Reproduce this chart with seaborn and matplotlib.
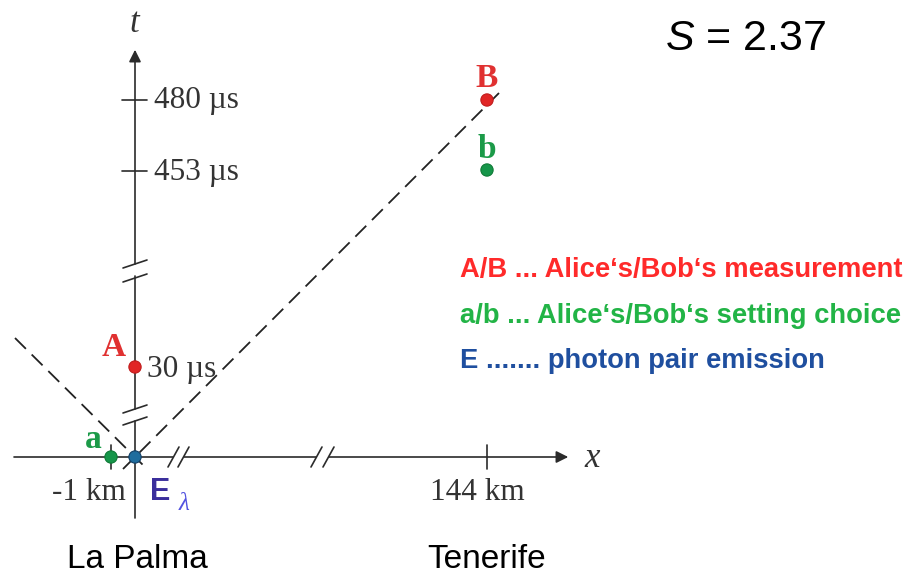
import numpy as np
import pandas as pd
import matplotlib
matplotlib.use("Agg")
import matplotlib.pyplot as plt
import seaborn as sns

# ==================================================
# DATA (schematic space-time diagram, figure pixel units)
# ==================================================

origin_x = 135
origin_t = 457

event_names = ["A", "B", "a", "b", "E"]
event_x = [135, 487, 111, 487, 135]
event_t = [367, 100, 457, 170, 457]
event_colors = ["#e12626", "#e12626", "#16964a", "#16964a", "#1f6d9e"]

label_names = ["A", "B", "a", "b"]
label_x = [114, 487, 93, 487]
label_t = [356, 87, 448, 158]
label_colors = ["#e03131", "#e03131", "#1b9a48", "#1b9a48"]

t_ticks = [100, 171]
t_tick_labels = ["480 µs", "453 µs"]
t_label_base = [108, 180]

x_ticks = [111, 487]
x_tick_labels = ["-1 km", "144 km"]
x_label_pos = [89, 477]

# light cones through the emission event E
cone_x = [[15, 147], [123, 500]]
cone_t = [[338, 469], [469, 92]]

# axis breaks
t_breaks = [[268, 282], [413, 425]]
x_breaks = [[168, 178], [311, 323]]

legend_lines = [
    "A/B ... Alice‘s/Bob‘s measurement",
    "a/b ... Alice‘s/Bob‘s setting choice",
    "E ....... photon pair emission",
]
legend_colors = ["#ff2a2a", "#22b446", "#1f4f9f"]
legend_base = [277, 323, 368]

places = ["La Palma", "Tenerife"]
places_x = [137, 487]

# ==================================================
# FIGURE
# ==================================================

sns.set_theme(style="white")
plt.rcParams["font.family"] = ["Liberation Sans", "DejaVu Sans"]
plt.rcParams["mathtext.fontset"] = "custom"
plt.rcParams["mathtext.it"] = "Liberation Sans:italic"
plt.rcParams["mathtext.rm"] = "Liberation Sans"

fig = plt.figure(figsize=(9.07, 5.76), dpi=100)
ax = fig.add_axes([0, 0, 1, 1])

axis_col = "#2b2b2b"
lw = 1.2
serif = ["Liberation Serif", "DejaVu Serif"]

# t axis, drawn in pieces around the breaks
seg_t = [518, t_breaks[1][1] - 4, t_breaks[1][0] - 4, t_breaks[0][1] - 6, t_breaks[0][0] - 4, 58]
for i in range(0, len(seg_t), 2):
    ax.plot([origin_x, origin_x], [seg_t[i], seg_t[i + 1]], color=axis_col, lw=lw)
ax.annotate("", xy=(origin_x, 47), xytext=(origin_x, 60),
            arrowprops=dict(arrowstyle="-|>", color=axis_col, lw=lw, mutation_scale=18))

# x axis with breaks
seg_x = [14, x_breaks[0][0] + 5, x_breaks[0][1] + 6, x_breaks[1][0] + 5, x_breaks[1][1] + 6, 560]
for i in range(0, len(seg_x), 2):
    ax.plot([seg_x[i], seg_x[i + 1]], [origin_t, origin_t], color=axis_col, lw=lw)
ax.annotate("", xy=(571, origin_t), xytext=(558, origin_t),
            arrowprops=dict(arrowstyle="-|>", color=axis_col, lw=lw, mutation_scale=18))

for b0, b1 in t_breaks:
    ax.plot([origin_x - 12, origin_x + 12], [b0, b0 - 8], color=axis_col, lw=lw)
    ax.plot([origin_x - 12, origin_x + 12], [b1, b1 - 8], color=axis_col, lw=lw)
for b0, b1 in x_breaks:
    ax.plot([b0, b0 + 11], [origin_t + 10, origin_t - 10], color=axis_col, lw=lw)
    ax.plot([b1, b1 + 11], [origin_t + 10, origin_t - 10], color=axis_col, lw=lw)

# ticks
for tt in t_ticks:
    ax.plot([origin_x - 13, origin_x + 12], [tt, tt], color=axis_col, lw=lw)
for xt in x_ticks:
    ax.plot([xt, xt], [origin_t - 12, origin_t + 12], color=axis_col, lw=lw)

# light cones
for cx, ct in zip(cone_x, cone_t):
    ax.plot(cx, ct, color="#222222", lw=1.3, dashes=(8.5, 4.5))

# events
ev = pd.DataFrame({"x": event_x, "t": event_t, "name": event_names})
sns.scatterplot(data=ev, x="x", y="t", hue="name", palette=dict(zip(event_names, event_colors)),
                s=78, edgecolor=["#c01c1c", "#c01c1c", "#0e7a36", "#0e7a36", "#123f66"],
                linewidth=0.8, legend=False, ax=ax, zorder=5)
ax.set_xlim(0, 907)
ax.set_ylim(576, 0)
ax.axis("off")

for name, lx, lt, c in zip(label_names, label_x, label_t, label_colors):
    ax.text(lx, lt, name, color=c, fontsize=24, fontweight="bold", family=serif,
            ha="center", va="baseline")

# tick labels
for tt, lab, base in zip(t_ticks, t_tick_labels, t_label_base):
    ax.text(154, base, lab, fontsize=22.5, family=serif, color="#333333", va="baseline")
ax.text(147, 377, "30 µs", fontsize=22.5, family=serif, color="#333333", va="baseline")
for lx, lab in zip(x_label_pos, x_tick_labels):
    ax.text(lx, 500, lab, fontsize=22.5, family=serif, color="#333333", ha="center", va="baseline")

ax.text(134, 32, "t", fontsize=25, family=serif, style="italic", color="#333333",
        ha="center", va="baseline")
ax.text(592, 467, "x", fontsize=25, family=serif, style="italic", color="#333333",
        ha="center", va="baseline")

ax.text(160, 500, "E", fontsize=22, fontweight="bold", color="#3b2f9c", ha="center", va="baseline")
ax.text(184, 510, "λ", fontsize=18, family=serif, style="italic", color="#5353e0",
        ha="center", va="baseline")

ax.text(665, 50, r"$S$ = 2.37", fontsize=31, color="black", va="baseline")

for line, c, base in zip(legend_lines, legend_colors, legend_base):
    ax.text(460, base, line, fontsize=19.7, fontweight="bold", color=c, va="baseline")

for pl, px in zip(places, places_x):
    ax.text(px, 568, pl, fontsize=24, color="black", ha="center", va="baseline")

fig.savefig("out.png", dpi=100)
